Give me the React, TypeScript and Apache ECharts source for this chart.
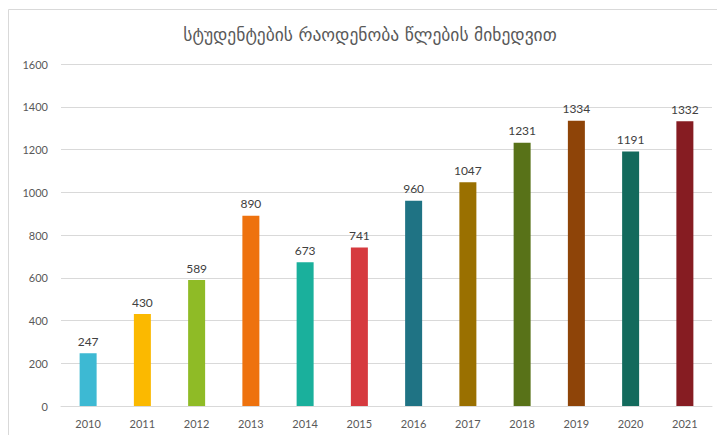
import React, { useEffect, useRef } from "react";
import * as echarts from "echarts";

const years = ["2010", "2011", "2012", "2013", "2014", "2015", "2016", "2017", "2018", "2019", "2020", "2021"];
const students = [247, 430, 589, 890, 673, 741, 960, 1047, 1231, 1334, 1191, 1332];
const barColors = [
  "#3DB9D3", "#FBB900", "#8FBB26", "#EE720E", "#1AB09C", "#D63A3F",
  "#1F7384", "#9A7000", "#587218", "#8E4408", "#136A5C", "#861C22",
];
const titleText = "სტუდენტების რაოდენობა წლების მიხედვით";

export default function App() {
  const ref = useRef<HTMLDivElement>(null);
  useEffect(() => {
    if (!ref.current) return;
    const chart = echarts.init(ref.current, undefined, { renderer: "svg" });
    chart.setOption({
      animation: false,
      backgroundColor: "#ffffff",
      title: {
        text: titleText,
        left: 365,
        textAlign: "center",
        top: 21,
        textStyle: {
          fontFamily: "DejaVu Sans",
          fontSize: 17.5,
          fontWeight: "normal",
          color: "#595959",
        },
      },
      graphic: [
        {
          type: "rect",
          shape: { x: 8.5, y: 9.5, width: 900, height: 600 },
          style: { fill: "none", stroke: "#d9d9d9", lineWidth: 1 },
          silent: true,
        },
      ],
      grid: { left: 61, right: 5, top: 64, bottom: 29, containLabel: false },
      xAxis: {
        type: "category",
        data: years,
        axisLine: { show: true, lineStyle: { color: "#d9d9d9", width: 1 } },
        axisTick: { show: false },
        axisLabel: { color: "#595959", fontSize: 11, fontFamily: "Lato", margin: 12 },
      },
      yAxis: {
        type: "value",
        min: 0,
        max: 1600,
        interval: 200,
        axisLine: { show: false },
        axisTick: { show: false },
        splitLine: { lineStyle: { color: "#d9d9d9", width: 1 } },
        axisLabel: {
          color: "#595959",
          fontSize: 11,
          fontFamily: "Lato",
          margin: 13,
          formatter: (v: number) => String(v),
        },
      },
      series: [
        {
          type: "bar",
          barWidth: 17,
          data: students.map((v, i) => ({ value: v, itemStyle: { color: barColors[i] } })),
          label: {
            show: true,
            position: "top",
            distance: 6,
            color: "#404040",
            fontSize: 12,
            fontFamily: "Lato",
          },
        },
      ],
    });
    return () => chart.dispose();
  }, []);
  return <div ref={ref} style={{ position: "fixed", left: 0, top: 0, width: 717, height: 435 }} />;
}
